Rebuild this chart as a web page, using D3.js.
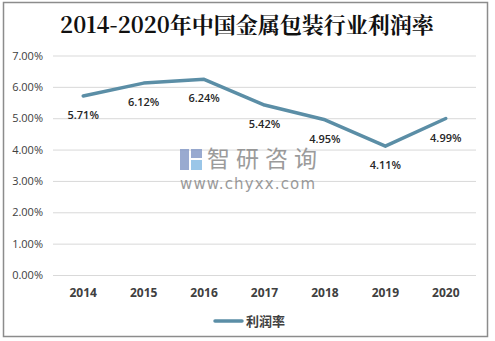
<!DOCTYPE html>
<html><head><meta charset="utf-8">
<script src="https://cdn.jsdelivr.net/npm/d3@7"></script>
<style>body{margin:0;background:#fff}svg{display:block}</style>
</head><body>
<svg id="c" width="495" height="341"></svg>
<script>
const years = ["2014","2015","2016","2017","2018","2019","2020"];
const rates = [5.71, 6.12, 6.24, 5.42, 4.95, 4.11, 4.99];
const yTicks = [0,1,2,3,4,5,6,7];
const title = "2014-2020年中国金属包装行业利润率";
const seriesName = "利润率";

const svg = d3.select("#c");
svg.append("rect").attr("x",3.5).attr("y",2.5).attr("width",484).attr("height",334)
  .attr("fill","#fff").attr("stroke","#8c8c8c").attr("stroke-width",1.5);

const x = d3.scaleBand().domain(years).range([53,476]);
const y = d3.scaleLinear().domain([0,7]).range([275,55.5]);
const font = "'Open Sans','Noto Sans','Noto Sans CJK SC',sans-serif";

svg.append("text").attr("x",247).attr("y",33).attr("text-anchor","middle")
  .attr("font-family","'Noto Serif CJK SC','Noto Sans CJK SC',serif").attr("font-size",22)
  .attr("font-weight","bold").attr("fill","#111").text(title);

// grid
const gy = svg.append("g").attr("transform","translate(53,0)")
  .call(d3.axisLeft(y).tickValues(yTicks).tickSize(-423).tickFormat(d=>d.toFixed(2)+"%"));
gy.select(".domain").remove();
gy.selectAll(".tick line").attr("stroke","#d9d9d9");
gy.selectAll(".tick text").attr("x",-10).attr("font-family",font).attr("font-size",11).attr("fill","#404040");

const gx = svg.append("g").attr("transform","translate(0,275)")
  .call(d3.axisBottom(x).tickSize(0).tickPadding(13));
gx.select(".domain").remove();
gx.selectAll(".tick text").attr("font-family",font).attr("font-size",12).attr("font-weight","bold").attr("fill","#404040");

// watermark
const wm = svg.append("g");
wm.append("rect").attr("x",180).attr("y",149).attr("width",9).attr("height",21).attr("fill","#7f95c4").attr("opacity",0.8);
wm.append("rect").attr("x",191).attr("y",149).attr("width",11).attr("height",9).attr("fill","#7f95c4").attr("opacity",0.8);
wm.append("rect").attr("x",191).attr("y",160).attr("width",11).attr("height",10).attr("fill","#8fc0e6").attr("opacity",0.9);
wm.append("text").attr("x",207).attr("y",167).attr("font-family","'Noto Sans CJK SC',sans-serif")
  .attr("font-size",23).attr("fill","#8a8a8a").attr("opacity",0.85).attr("textLength",110).text("智研咨询");
wm.append("text").attr("x",180).attr("y",189).attr("font-family","'DejaVu Sans',sans-serif")
  .attr("font-size",15).attr("fill","#8a8a8a").attr("opacity",0.85).attr("textLength",135).text("www.chyxx.com");

const line = d3.line().x((d,i)=>x(years[i])+x.bandwidth()/2).y(d=>y(d));
svg.append("path").datum(rates).attr("d",line).attr("fill","none")
  .attr("stroke","#5b8ea6").attr("stroke-width",3.5).attr("stroke-linejoin","round").attr("stroke-linecap","round");

svg.selectAll(".lbl").data(rates).enter().append("text")
  .attr("x",(d,i)=>x(years[i])+x.bandwidth()/2).attr("y",d=>y(d)+23)
  .attr("text-anchor","middle").attr("font-family",font).attr("font-size",11).attr("font-weight",600)
  .attr("fill","#262626").text(d=>d.toFixed(2)+"%");

// legend
svg.append("line").attr("x1",215).attr("x2",242).attr("y1",321).attr("y2",321)
  .attr("stroke","#5b8ea6").attr("stroke-width",3.5).attr("stroke-linecap","round");
svg.append("text").attr("x",246).attr("y",326).attr("font-family","'Noto Sans CJK SC',sans-serif")
  .attr("font-size",13).attr("font-weight","bold").attr("fill","#404040").text(seriesName);
</script>
</body></html>
